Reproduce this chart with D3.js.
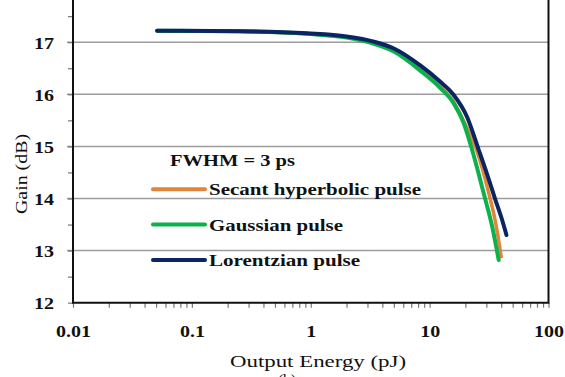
<!DOCTYPE html>
<html>
<head>
<meta charset="utf-8">
<script src="https://cdn.jsdelivr.net/npm/d3@7"></script>
<style>
  body { margin: 0; background: #fff; }
  svg { display: block; }
</style>
</head>
<body>
<svg id="chart" width="565" height="377"></svg>
<script>
// data
const yTicks = [12, 13, 14, 15, 16, 17];
const xDecades = [0.01, 0.1, 1, 10, 100];
const seriesNames = ["Secant hyperbolic pulse", "Gaussian pulse", "Lorentzian pulse"];
const seriesColors = ["#e0853c", "#0db14b", "#0b2463"];

const secantE = [0.051, 0.25, 0.93, 2.0, 3.4, 5.0, 8.4, 12.3, 15.9, 20.0, 24.8, 31.4, 35.8, 40.0];
const secantG = [17.22, 17.21, 17.16, 17.10, 16.98, 16.84, 16.47, 16.15, 15.86, 15.42, 14.93, 14.11, 13.55, 12.88];

const gaussE = [0.051, 0.25, 0.93, 2.0, 3.4, 5.0, 8.4, 12.3, 15.9, 19.4, 22.8, 28.5, 33.6, 38.1];
const gaussG = [17.22, 17.21, 17.16, 17.09, 16.97, 16.82, 16.45, 16.12, 15.83, 15.44, 14.93, 14.10, 13.46, 12.82];

const lorentzE = [0.051, 0.255, 0.93, 2.0, 3.4, 5.0, 8.4, 12.3, 15.9, 20.7, 25.9, 30.6, 35.8, 40.2, 44.3];
const lorentzG = [17.22, 17.21, 17.17, 17.11, 17.01, 16.88, 16.55, 16.24, 15.99, 15.56, 14.93, 14.45, 13.97, 13.63, 13.30];

const series = [
    { name: seriesNames[0], color: seriesColors[0], e: secantE, g: secantG, w: 3.5 },
    { name: seriesNames[1], color: seriesColors[1], e: gaussE, g: gaussG, w: 4 },
    { name: seriesNames[2], color: seriesColors[2], e: lorentzE, g: lorentzG, w: 4 }
];

const FONT = '"Liberation Serif", "DejaVu Serif", "Times New Roman", serif';

const svg = d3.select("#chart");
const plotLeft = 73, plotRight = 548.5, plotBottom = 302.7, plotTop = -9.9;

const x = d3.scaleLog().domain([0.01, 100]).range([plotLeft, plotRight]);
const y = d3.scaleLinear().domain([12, 18]).range([plotBottom, plotTop]);

// stretch text horizontally (the source picture is wider than the font)
function stretch(sel, k) {
    sel.each(function () {
        const w = this.getComputedTextLength();
        d3.select(this).attr("textLength", w * k).attr("lengthAdjust", "spacingAndGlyphs");
    });
}
function fit(sel, w) {
    sel.attr("textLength", w).attr("lengthAdjust", "spacingAndGlyphs");
}

// grid
svg.append("g")
    .selectAll("line")
    .data(yTicks.filter(d => d > 12))
    .enter().append("line")
    .attr("x1", plotLeft - 6).attr("x2", plotRight)
    .attr("y1", d => y(d)).attr("y2", d => y(d))
    .attr("stroke", "#9c9c9c").attr("stroke-width", 1.5);

// y axis
let yMinor = d3.range(12, 18.01, 0.5);
let gy = svg.append("g")
    .attr("transform", "translate(" + plotLeft + ",0)")
    .call(d3.axisLeft(y).tickValues(yMinor).tickSize(5)
        .tickFormat(d => yTicks.includes(d) ? d : ""));
gy.select(".domain").remove();
gy.selectAll(".tick line").attr("stroke", "#777").attr("stroke-width", 1.2);
gy.selectAll(".tick text")
    .attr("x", -19).attr("y", 6).attr("dy", null)
    .style("font-family", FONT).style("fill", "#111")
    .style("font-size", "16px").style("font-weight", "bold");
stretch(gy.selectAll(".tick text"), 1.25);

// x axis
let xMinor = [];
xDecades.slice(0, -1).forEach(d => { for (let i = 1; i < 10; i++) xMinor.push(d * i); });
xMinor.push(100);
let gx = svg.append("g")
    .attr("transform", "translate(0," + plotBottom + ")")
    .call(d3.axisBottom(x).tickValues(xMinor).tickSize(5)
        .tickFormat(d => xDecades.includes(d) ? String(d) : ""));
gx.select(".domain").remove();
gx.selectAll(".tick line").attr("stroke", "#777").attr("stroke-width", 1.2);
gx.selectAll(".tick text")
    .attr("y", 34).attr("dy", null)
    .style("font-family", FONT).style("fill", "#111")
    .style("font-size", "16px").style("font-weight", "bold");
stretch(gx.selectAll(".tick text"), 1.25);

// frame
svg.append("path")
    .attr("d", "M" + plotLeft + "," + plotTop + "V" + plotBottom + "H" + plotRight + "V" + plotTop)
    .attr("fill", "none").attr("stroke", "#111").attr("stroke-width", 2);

// curves
const line = d3.line()
    .x(d => x(d[0]))
    .y(d => y(d[1]))
    .curve(d3.curveMonotoneX);

svg.append("g")
    .selectAll("path")
    .data(series)
    .enter().append("path")
    .attr("d", s => line(s.e.map((e, i) => [e, s.g[i]])))
    .attr("fill", "none")
    .attr("stroke", s => s.color)
    .attr("stroke-width", s => s.w)
    .attr("stroke-linecap", "round")
    .attr("stroke-linejoin", "round");

// legend
let lg = svg.append("g")
    .style("font-family", FONT).style("fill", "#111");
lg.append("text")
    .attr("x", 170).attr("y", 166)
    .style("font-size", "16px").style("font-weight", "bold")
    .text("FWHM = 3 ps")
    .call(fit, 125);

let legendWidths = [212, 134, 151];
let rows = lg.selectAll("g.row")
    .data(series)
    .enter().append("g")
    .attr("class", "row")
    .attr("transform", (d, i) => "translate(0," + (189.3 + i * 35.3) + ")");
rows.append("line")
    .attr("x1", 153).attr("x2", 205)
    .attr("stroke", d => d.color).attr("stroke-width", 4)
    .attr("stroke-linecap", "round");
rows.append("text")
    .attr("x", 209).attr("y", 6)
    .style("font-size", "16px").style("font-weight", "bold")
    .text(d => d.name)
    .each(function (d, i) { fit(d3.select(this), legendWidths[i]); });

// axis titles
let titles = svg.append("g")
    .style("font-family", FONT).style("fill", "#111").style("font-size", "16px");
titles.append("text")
    .attr("transform", "translate(27,174) rotate(-90)")
    .attr("text-anchor", "middle")
    .text("Gain (dB)")
    .call(fit, 80);

titles.append("text")
    .attr("x", 318).attr("y", 367)
    .attr("text-anchor", "middle")
    .text("Output Energy (pJ)")
    .call(fit, 176);

titles.append("text")
    .attr("x", 287).attr("y", 386)
    .attr("text-anchor", "middle")
    .text("(b)");
</script>
</body>
</html>
